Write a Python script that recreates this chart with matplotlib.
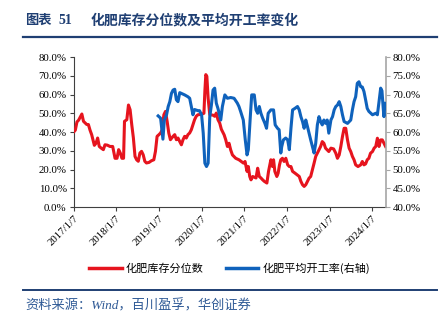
import pandas as pd
import matplotlib
matplotlib.use("Agg")
import matplotlib.pyplot as plt
from matplotlib.lines import Line2D

# inventory percentile (left axis, %)
inv_dates = [
    "2017-01-07", "2017-01-21", "2017-02-04", "2017-02-18", "2017-03-18", "2017-04-01",
    "2017-04-29", "2017-05-13", "2017-05-27", "2017-06-10", "2017-06-24", "2017-07-03",
    "2017-07-17", "2017-07-31", "2017-08-14", "2017-08-29", "2017-09-18", "2017-10-02",
    "2017-10-22", "2017-11-14", "2017-12-07", "2017-12-27", "2018-01-13", "2018-01-27",
    "2018-02-10", "2018-02-24", "2018-03-10", "2018-03-18", "2018-04-07", "2018-04-21",
    "2018-05-05", "2018-05-19", "2018-06-02", "2018-06-16", "2018-06-30", "2018-07-14",
    "2018-07-28", "2018-08-11", "2018-08-25", "2018-09-08", "2018-09-22", "2018-10-14",
    "2018-11-04", "2018-11-24", "2018-12-08", "2018-12-22", "2019-01-07", "2019-01-21",
    "2019-02-04", "2019-02-18", "2019-03-04", "2019-03-18", "2019-04-01", "2019-04-15",
    "2019-05-08", "2019-05-22", "2019-06-05", "2019-06-19", "2019-07-04", "2019-07-18",
    "2019-08-01", "2019-08-15", "2019-08-29", "2019-09-12", "2019-09-27", "2019-10-11",
    "2019-10-25", "2019-11-08", "2019-11-22", "2019-12-06", "2020-01-07", "2020-01-27",
    "2020-02-04", "2020-02-12", "2020-02-21", "2020-03-03", "2020-03-17", "2020-04-14",
    "2020-04-28", "2020-05-12", "2020-05-26", "2020-06-10", "2020-06-24", "2020-07-18",
    "2020-08-01", "2020-08-15", "2020-08-29", "2020-09-12", "2020-09-27", "2020-10-25",
    "2020-11-22", "2020-12-12", "2020-12-31", "2021-01-13", "2021-01-30", "2021-02-10",
    "2021-02-22", "2021-03-05", "2021-03-19", "2021-04-17", "2021-05-01", "2021-05-15",
    "2021-05-29", "2021-06-13", "2021-06-27", "2021-07-19", "2021-08-02", "2021-08-22",
    "2021-09-05", "2021-09-14", "2021-09-25", "2021-10-12", "2021-10-23", "2021-11-04",
    "2021-11-15", "2021-11-29", "2021-12-13", "2021-12-28", "2022-01-13", "2022-01-27",
    "2022-02-10", "2022-02-24", "2022-03-16", "2022-04-22", "2022-05-06", "2022-05-20",
    "2022-06-03", "2022-06-17", "2022-07-01", "2022-07-15", "2022-07-29", "2022-08-13",
    "2022-08-27", "2022-09-10", "2022-09-24", "2022-10-08", "2022-10-22", "2022-11-05",
    "2022-11-19", "2022-12-03", "2022-12-17", "2022-12-31", "2023-01-18", "2023-02-10",
    "2023-03-01", "2023-03-15", "2023-03-30", "2023-04-13", "2023-04-27", "2023-05-11",
    "2023-05-25", "2023-06-09", "2023-06-23", "2023-07-07", "2023-07-21", "2023-08-04",
    "2023-08-18", "2023-09-07", "2023-09-30", "2023-10-14", "2023-10-28", "2023-11-11",
    "2023-11-25", "2023-12-09", "2023-12-23", "2024-01-09", "2024-01-23", "2024-02-06",
    "2024-02-20", "2024-03-05", "2024-03-19", "2024-04-02", "2024-04-16", "2024-04-30",
]
inv_pct = [
    40.0, 41.0, 45.4, 46.3, 49.6, 45.7,
    44.0, 44.0, 41.0, 38.6, 35.0, 32.9,
    34.0, 36.8, 32.3, 31.5, 30.6, 33.2,
    33.0, 32.3, 32.3, 26.0, 26.0, 30.6,
    28.8, 26.0, 26.0, 45.7, 46.6, 54.4,
    51.9, 44.0, 36.9, 27.0, 25.2, 24.4,
    28.8, 29.7, 27.9, 24.4, 23.5, 23.8,
    24.7, 25.2, 29.7, 37.7, 38.6, 39.5,
    41.2, 49.2, 51.0, 45.7, 39.5, 35.9,
    37.7, 38.6, 35.9, 36.8, 35.0, 33.2,
    35.9, 37.7, 36.8, 38.6, 39.5, 41.2,
    43.9, 46.6, 48.4, 49.2, 49.5, 50.0,
    61.7, 70.6, 69.7, 58.0, 49.2, 49.0,
    48.4, 50.1, 46.6, 44.8, 41.5, 38.5,
    35.8, 32.3, 34.0, 30.5, 27.8, 26.0,
    25.2, 24.3, 23.4, 24.3, 19.0, 21.6,
    16.3, 14.5, 16.3, 15.5, 20.7, 16.3,
    15.5, 14.5, 13.7, 12.8, 19.0, 25.2,
    21.6, 25.2, 19.0, 16.3, 18.0, 22.5,
    25.2, 26.0, 24.3, 26.0, 22.5, 21.6,
    21.6, 19.0, 18.1, 16.3, 13.7, 11.9,
    11.0, 11.9, 13.7, 15.4, 16.3, 19.9,
    23.4, 27.0, 28.7, 30.5, 32.3, 34.9,
    34.0, 31.4, 30.5, 29.6, 31.4, 31.0,
    28.7, 26.0, 27.8, 32.3, 37.6, 42.0,
    42.0, 35.8, 31.4, 29.6, 27.0, 25.2,
    22.5, 21.6, 22.5, 24.3, 22.5, 23.0,
    25.2, 26.0, 28.7, 29.6, 31.4, 32.3,
    36.7, 32.3, 35.8, 35.8, 34.0, 32.3,
]

# average operating rate (right axis, %)
op_dates = [
    "2018-12-31", "2019-01-21", "2019-02-10", "2019-02-22", "2019-03-13", "2019-03-27",
    "2019-04-10", "2019-04-24", "2019-05-08", "2019-05-22", "2019-06-05", "2019-06-19",
    "2019-07-04", "2019-07-18", "2019-08-15", "2019-09-12", "2019-09-27", "2019-10-11",
    "2019-10-25", "2019-11-08", "2019-12-06", "2019-12-20", "2020-01-07", "2020-01-21",
    "2020-02-04", "2020-02-18", "2020-03-03", "2020-03-17", "2020-03-31", "2020-04-14",
    "2020-04-28", "2020-05-12", "2020-05-26", "2020-06-19", "2020-07-03", "2020-07-24",
    "2020-08-15", "2020-09-12", "2020-10-11", "2020-11-08", "2020-11-22", "2020-12-06",
    "2020-12-29", "2021-01-15", "2021-01-30", "2021-02-10", "2021-02-27", "2021-03-11",
    "2021-04-02", "2021-04-17", "2021-05-01", "2021-05-15", "2021-05-29", "2021-06-13",
    "2021-07-02", "2021-07-16", "2021-07-30", "2021-08-22", "2021-09-14", "2021-09-28",
    "2021-10-18", "2021-11-01", "2021-11-15", "2021-11-23", "2021-12-07", "2021-12-27",
    "2022-01-13", "2022-01-27", "2022-02-10", "2022-02-24", "2022-03-16", "2022-04-07",
    "2022-04-22", "2022-05-06", "2022-05-20", "2022-06-03", "2022-06-17", "2022-07-01",
    "2022-07-15", "2022-07-29", "2022-08-13", "2022-08-27", "2022-09-10", "2022-09-24",
    "2022-10-08", "2022-10-22", "2022-11-05", "2022-11-19", "2022-12-03", "2022-12-17",
    "2022-12-31", "2023-01-18", "2023-02-01", "2023-02-15", "2023-03-01", "2023-03-15",
    "2023-03-30", "2023-04-13", "2023-04-27", "2023-05-11", "2023-06-09", "2023-07-07",
    "2023-07-21", "2023-08-04", "2023-08-18", "2023-09-01", "2023-09-15", "2023-09-30",
    "2023-10-14", "2023-10-28", "2023-11-11", "2023-11-25", "2023-12-09", "2024-01-09",
    "2024-02-06", "2024-02-20", "2024-03-05", "2024-03-19", "2024-03-30", "2024-04-11",
    "2024-04-16", "2024-04-25", "2024-04-30",
]
op_rate = [
    64.3, 63.7, 58.1, 63.2, 64.6, 66.8,
    68.1, 70.3, 71.2, 71.4, 68.6, 68.1,
    70.5, 70.3, 69.9, 69.4, 69.0, 66.8,
    64.6, 66.0, 65.7, 65.7, 64.6, 59.7,
    51.7, 50.8, 51.7, 64.1, 67.2, 71.2,
    71.7, 67.7, 66.3, 63.2, 66.8, 69.9,
    69.0, 69.2, 69.0, 67.7, 66.8, 65.5,
    63.2, 57.9, 53.9, 55.3, 64.1, 69.9,
    69.9, 65.9, 65.0, 66.8, 65.0, 63.7,
    62.3, 61.0, 65.0, 65.9, 65.9, 61.9,
    61.0, 60.6, 54.4, 56.1, 57.9, 58.4,
    57.9, 55.3, 61.0, 65.9, 66.3, 66.8,
    65.9, 64.1, 62.8, 61.0, 63.2, 61.5,
    59.7, 57.9, 56.1, 54.4, 57.0, 61.9,
    64.1, 62.8, 61.9, 63.2, 62.3, 63.2,
    59.7, 63.2, 64.1, 65.9, 66.8, 67.2,
    68.1, 66.8, 64.6, 62.8, 62.3, 63.2,
    65.9, 68.1, 69.4, 73.0, 73.4, 72.1,
    72.0, 70.8, 68.6, 66.3, 65.5, 64.6,
    65.0, 64.6, 68.1, 71.7, 71.0, 65.9,
    64.1, 67.7, 67.3,
]

tick_dates = ["2017-01-07", "2018-01-07", "2019-01-07", "2020-01-07",
              "2021-01-07", "2022-01-07", "2023-01-07", "2024-01-07"]
tick_labels = ["2017/1/7", "2018/1/7", "2019/1/7", "2020/1/7",
               "2021/1/7", "2022/1/7", "2023/1/7", "2024/1/7"]

RED = "#E6141E"
BLUE = "#0F62BC"
NAVY = "#1F3F73"
SERIF = ["Liberation Serif", "Noto Sans CJK SC"]
CJK = ["Noto Sans CJK SC", "DejaVu Sans"]

fig = plt.figure(figsize=(4.42, 3.23), dpi=100)
ax1 = fig.add_axes([0.1667, 0.359, 0.7059, 0.4645])
ax2 = ax1.twinx()

x_inv = pd.to_datetime(inv_dates)
x_op = pd.to_datetime(op_dates)
ax1.plot(x_inv, inv_pct, color=RED, linewidth=2.2, solid_joinstyle="round", zorder=3)
ax2.plot(x_op, op_rate, color=BLUE, linewidth=2.2, solid_joinstyle="round", zorder=3)

ax1.set_xlim(pd.Timestamp("2017-01-07"), pd.Timestamp("2024-05-01"))
ax1.set_ylim(0, 80)
ax2.set_ylim(40, 80)
ax1.set_yticks(range(0, 81, 10))
ax1.set_yticklabels([f"{v:.1f}%" for v in range(0, 81, 10)], family=SERIF, fontsize=7.8)
ax2.set_yticks(range(40, 81, 5))
ax2.set_yticklabels([f"{v:.1f}%" for v in range(40, 81, 5)], family=SERIF, fontsize=7.8)
ax1.set_xticks(pd.to_datetime(tick_dates))
ax1.set_xticklabels(tick_labels, family=SERIF, fontsize=7.8, rotation=45,
                    ha="right", rotation_mode="anchor")

for ax in (ax1, ax2):
    ax.spines["top"].set_visible(False)
ax2.spines["left"].set_visible(False)
ax2.spines["bottom"].set_visible(False)
ax1.spines["right"].set_visible(False)
ax1.spines["left"].set_color("#404040")
ax1.spines["bottom"].set_color("#404040")
ax2.spines["right"].set_color("#A6A6A6")
ax2.spines["right"].set_linewidth(1.2)
ax1.tick_params(axis="both", direction="out", length=3, width=0.8, color="#404040", pad=2)
ax2.tick_params(axis="y", direction="out", length=3, width=0.8, color="#A6A6A6", pad=2)

handles = [Line2D([0], [0], color=RED, linewidth=2.5),
           Line2D([0], [0], color=BLUE, linewidth=2.5)]
fig.legend(handles, ["化肥库存分位数", "化肥平均开工率(右轴)"], loc="center",
           bbox_to_anchor=(0.52, 0.17), ncol=2, frameon=False,
           prop={"family": CJK, "size": 8}, handlelength=2.9,
           handletextpad=0.4, columnspacing=2.0)

fig.text(0.057, 0.938, "图表", family=CJK, fontsize=9.5,
         fontweight="bold", color=NAVY, va="center", ha="left")
fig.text(0.133, 0.938, "51", family=SERIF, fontsize=10,
         fontweight="bold", color=NAVY, va="center", ha="left")
fig.text(0.204, 0.938, "化肥库存分位数及平均开工率变化", family=CJK, fontsize=10,
         fontweight="bold", color=NAVY, va="center", ha="left")
fig.add_artist(Line2D([0.052, 0.989], [0.885, 0.885], color=NAVY, linewidth=1.6))
fig.add_artist(Line2D([0.052, 0.989], [0.102, 0.102], color=NAVY, linewidth=1.4))
fig.text(0.057, 0.052, "资料来源：Wind，百川盈孚，华创证券", family=SERIF,
         fontsize=9.5, style="italic", color="#2F5A96", va="center", ha="left")

fig.savefig("out.png", dpi=100)
